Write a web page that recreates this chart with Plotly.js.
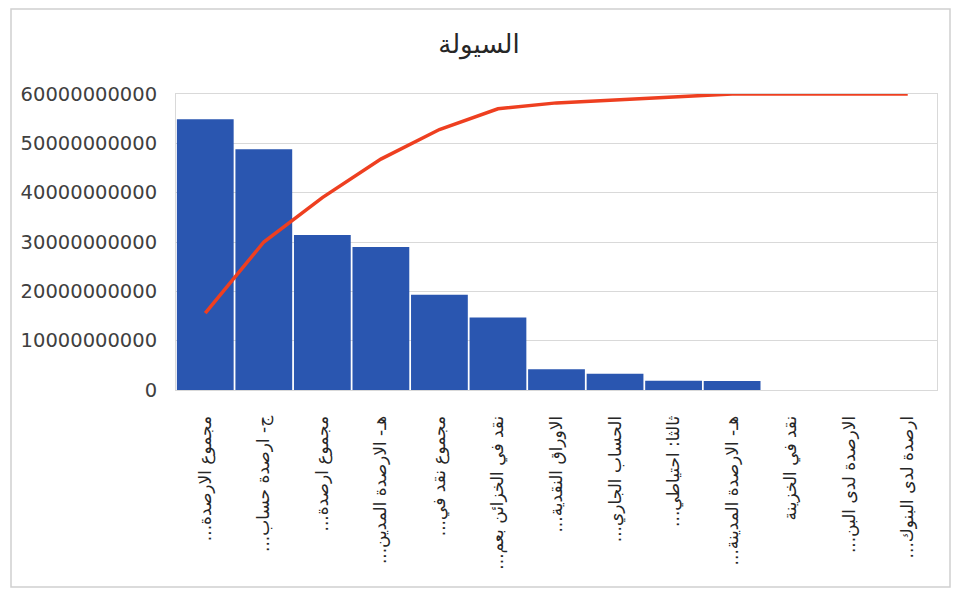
<!DOCTYPE html>
<html>
<head>
<meta charset="utf-8">
<script src="https://cdn.plot.ly/plotly-3.0.1.min.js"></script>
<style>body{margin:0;background:#fff}#chart{width:958px;height:590px}</style>
</head>
<body>
<div id="chart"></div>
<script>
const categories = [
  "مجموع الارصدة...",
  "ج- ارصدة حساب...",
  "مجموع ارصدة...",
  "هـ- الارصدة المدين...",
  "مجموع نقد في...",
  "نقد في الخزائن بعم...",
  "الاوراق النقدية...",
  "الحساب الجاري...",
  "ثالثا: احتياطي...",
  "هـ- الارصدة المدينة...",
  "نقد في الخزينة",
  "الارصدة لدى البن...",
  "ارصدة لدى البنوك..."
];
const barValues = [54900000000, 48800000000, 31400000000, 29000000000, 19300000000, 14700000000, 4200000000, 3300000000, 1900000000, 1800000000, 0, 0, 0];
const cumulativePct = [26, 50, 65, 78, 88, 95, 97, 98, 99, 100, 100, 100, 100];
const yTicks = [0, 10000000000, 20000000000, 30000000000, 40000000000, 50000000000, 60000000000];
const yTickText = ["0", "10000000000", "20000000000", "30000000000", "40000000000", "50000000000", "60000000000"];
const title = "السيولة";

const RLM = "\u200F";
const tickText = categories.map(c => RLM + c + RLM);

const pw = 761, ph = 296, L = 176, T = 94;
function px(x){return (x-L)/pw;}
function py(y){return (T+ph-y)/ph;}

Plotly.newPlot('chart', [
  {type:'bar', x:categories, y:barValues, marker:{color:'#2A56B0', line:{width:0}}, hoverinfo:'x+y'},
  {type:'scatter', mode:'lines', x:categories, y:cumulativePct, yaxis:'y2', line:{color:'#EE3F20', width:3.5}}
], {
  width:958, height:590,
  margin:{l:L, r:958-L-pw, t:T, b:590-T-ph, pad:0},
  paper_bgcolor:'#fff', plot_bgcolor:'#fff',
  showlegend:false,
  bargap:0.03,
  title:{text:title, x:0.5, xanchor:'center', y:0.925, yanchor:'middle', font:{family:'DejaVu Sans', size:26, color:'#262626'}},
  xaxis:{tickmode:'array', tickvals:categories, ticktext:tickText, tickangle:-90, tickfont:{family:'DejaVu Sans', size:17, color:'#262626'}, ticks:'', ticklen:0, ticklabelstandoff:18, showline:true, linecolor:'#d9d9d9', mirror:true, showgrid:false},
  yaxis:{range:[0,60000000000], tickvals:yTicks, ticktext:yTickText, tickfont:{family:'DejaVu Sans', size:19.5, color:'#404040'}, showgrid:true, gridcolor:'#d9d9d9', zeroline:false, showline:true, linecolor:'#d9d9d9', mirror:true, ticks:'', ticklabelstandoff:14},
  yaxis2:{overlaying:'y', side:'right', range:[0,100], visible:false, showgrid:false},
  shapes:[{type:'rect', xref:'paper', yref:'paper', x0:px(11), x1:px(950), y0:py(587), y1:py(9), line:{color:'#d0d0d0', width:1.5}, layer:'below'}]
}, {displayModeBar:false, staticPlot:true});
</script>
</body>
</html>
